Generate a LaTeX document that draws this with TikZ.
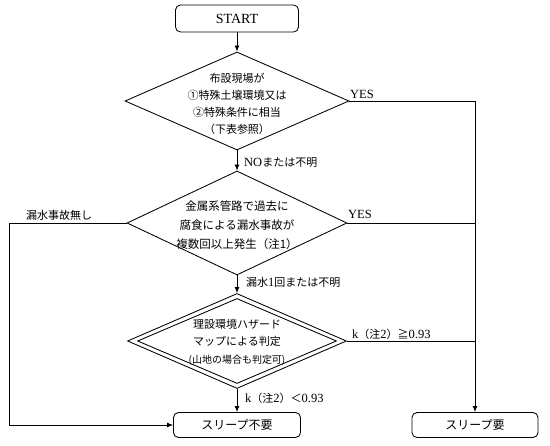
\documentclass[tikz,border=0pt]{standalone}
\usepackage{fontspec}
\setmainfont{Liberation Serif}
\newfontfamily\jp{Noto Sans CJK JP}
\newcommand{\jpl}{\jp\fontsize{11}{13}\selectfont}
\usetikzlibrary{shapes.geometric,arrows.meta}
\begin{document}
\begin{tikzpicture}[x=1pt,y=-1pt,
  box/.style={draw, rounded corners=5pt, minimum height=25pt, line width=0.85pt, inner sep=0pt},
  dia/.style={draw, diamond, line width=0.85pt, inner sep=0pt},
  txt/.style={align=center, font=\jp\fontsize{11}{17}\selectfont, inner sep=0pt},
  lbl/.style={font=\fontsize{12.5}{13}\selectfont, inner sep=0pt, anchor=base west},
  conn/.style={line width=0.85pt},
  arr/.style={line width=0.85pt, -{Latex[length=6pt,width=5pt]}}]
\useasboundingbox (0,0) rectangle (550,446);

\node[box, minimum width=123pt, minimum height=27pt, font=\fontsize{14}{16}\selectfont] (start) at (237,18.5) {START};

\node[dia, minimum width=224pt, minimum height=98pt] (d1) at (237,101) {};
\node[txt] (t1) at (237,104) {布設現場が\\①特殊土壌環境又は\\②特殊条件に相当\\（下表参照）};

\node[dia, minimum width=220pt, minimum height=104pt] (d2) at (237,223) {};
\node[txt, font=\jp\fontsize{11.5}{19}\selectfont] (t2) at (237,225) {金属系管路で過去に\\腐食による漏水事故が\\複数回以上発生（注1）};

\node[dia, minimum width=219pt, minimum height=95pt] (d3) at (237,341) {};
\node[dia, minimum width=199pt, minimum height=85pt] (d3in) at (237,341) {};
\node[txt, font=\jp\fontsize{11}{17.5}\selectfont] (t3) at (237,342) {理設環境ハザード\\マップによる判定\\{\fontsize{10}{17.5}\selectfont (山地の場合も判定可)}};

\node[box, minimum width=127pt, font=\jp\fontsize{12}{14}\selectfont] (no) at (237,425) {スリープ不要};
\node[box, minimum width=126pt, font=\jp\fontsize{12}{14}\selectfont] (yes) at (475,425) {スリープ要};

\coordinate (lc) at (9,223);

\draw[arr] (start) -- (d1);
\draw[arr] (d1) -- (d2);
\draw[arr] (d2) -- (d3);
\draw[arr] (d3) -- (no);
\draw[arr] (d1.east) -| (yes);
\draw[conn] (d2.east) -- (d2.east -| yes);
\draw[conn] (d3.east) -- (d3.east -| yes);
\draw[arr] (d2.west) -- (lc) |- (no.west);

\node[lbl] (l1) at (350,98.5) {YES};
\node[lbl] (l2) at (348,219) {YES};
\node[lbl, font=\jpl] (l3) at (26,220) {漏水事故無し};
\node[lbl] (l4) at (244,167) {NO{\jpl または不明}};
\node[lbl] (l5) at (246,287) {{\jpl 漏水}1{\jpl 回または不明}};
\node[lbl] (l6) at (352,339) {k{\jpl （注}2{\jpl ）≧}0.93};
\node[lbl] (l7) at (245,403) {k{\jpl （注}2{\jpl ）＜}0.93};
\end{tikzpicture}
\end{document}
